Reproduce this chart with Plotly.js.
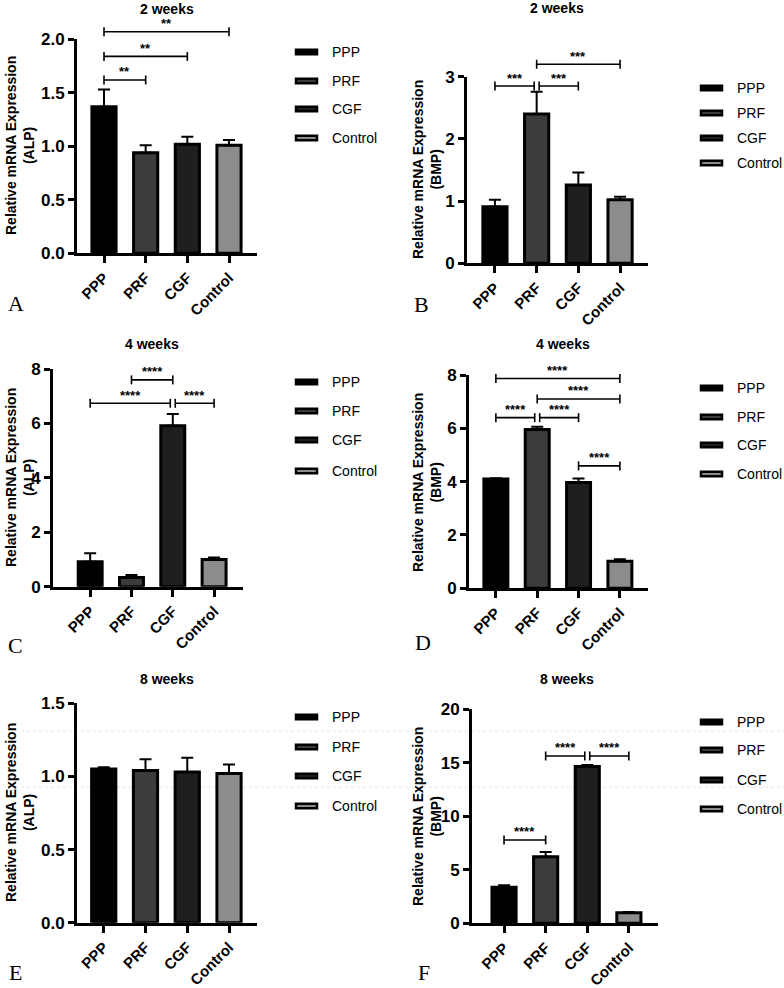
<!DOCTYPE html>
<html><head><meta charset="utf-8">
<script src="https://cdn.plot.ly/plotly-3.0.1.min.js"></script>
<style>html,body{margin:0;padding:0;background:#fff;}#chart{width:784px;height:988px;}</style>
</head><body><div id="chart"></div>
<script>
// ---------- DATA ----------
const groups = ['PPP', 'PRF', 'CGF', 'Control'];
const panelLetters = ['A', 'B', 'C', 'D', 'E', 'F'];
const panelTitles = ['2 weeks', '2 weeks', '4 weeks', '4 weeks', '8 weeks', '8 weeks'];
const genes = ['ALP', 'BMP', 'ALP', 'BMP', 'ALP', 'BMP'];
const yTitle = 'Relative mRNA Expression';

const alp2wMean = [1.37, 0.94, 1.02, 1.01];
const alp2wSD   = [0.16, 0.07, 0.07, 0.05];
const bmp2wMean = [0.91, 2.40, 1.26, 1.02];
const bmp2wSD   = [0.11, 0.36, 0.20, 0.05];
const alp4wMean = [0.92, 0.34, 5.91, 1.00];
const alp4wSD   = [0.31, 0.09, 0.44, 0.07];
const bmp4wMean = [4.10, 5.96, 3.97, 1.01];
const bmp4wSD   = [0.03, 0.10, 0.15, 0.08];
const alp8wMean = [1.05, 1.04, 1.03, 1.02];
const alp8wSD   = [0.013, 0.078, 0.098, 0.061];
const bmp8wMean = [3.36, 6.23, 14.65, 0.98];
const bmp8wSD   = [0.19, 0.43, 0.15, 0.08];

const yMax = [2, 3, 8, 8, 1.5, 20];
const yStep = [0.5, 1, 2, 2, 0.5, 5];

// significance brackets: [from group index, to group index, height, label]
const sigA = [[0, 1, 1.62, '**'], [0, 2, 1.84, '**'], [0, 3, 2.07, '**']];
const sigB = [[0, 1, 2.85, '***'], [1, 2, 2.85, '***'], [1, 3, 3.20, '***']];
const sigC = [[1, 2, 7.60, '****'], [0, 2, 6.74, '****'], [2, 3, 6.74, '****']];
const sigD = [[0, 3, 7.87, '****'], [1, 3, 7.10, '****'], [0, 1, 6.40, '****'], [1, 2, 6.40, '****'], [2, 3, 4.59, '****']];
const sigE = [];
const sigF = [[0, 1, 7.79, '****'], [1, 2, 15.64, '****'], [2, 3, 15.64, '****']];

// ---------- STYLE / LAYOUT ----------
const W = 784, H = 988;
const FONT = 'Liberation Sans, Arial, sans-serif';
const barColors = ['#000000', '#3c3c3c', '#1f1f1f', '#8c8c8c'];
const means = [alp2wMean, bmp2wMean, alp4wMean, bmp4wMean, alp8wMean, bmp8wMean];
const sds = [alp2wSD, bmp2wSD, alp4wSD, bmp4wSD, alp8wSD, bmp8wSD];
const sigs = [sigA, sigB, sigC, sigD, sigE, sigF];

const px = x => x / W;
const py = y => 1 - y / H;

const geo = [
  {x: [77, 257],  y: [39.3, 253.3],  xr: [-0.648, 3.672], t: [167, 9],   l: [16, 303],  yt: [20, 146],  lg: {x0: 295, x1: 318, tx: 330, ys: [52, 81, 109, 138]}},
  {x: [467, 648], y: [76.7, 263.3],  xr: [-0.67, 3.67],   t: [557, 8],   l: [422, 305], yt: [427, 169], lg: {x0: 700, x1: 723, tx: 735, ys: [88, 113, 138, 163]}},
  {x: [53, 243],  y: [369, 586.7],   xr: [-0.9, 3.7],     t: [152, 344], l: [15, 645],  yt: [20, 478],  lg: {x0: 295, x1: 318, tx: 330, ys: [382, 411, 440, 471]}},
  {x: [469, 648], y: [375, 588.3],   xr: [-0.65, 3.68],   t: [563, 344], l: [423, 642], yt: [427, 482], lg: {x0: 700, x1: 723, tx: 735, ys: [388, 417, 445, 474]}},
  {x: [77, 257],  y: [703.3, 922.7], xr: [-0.64, 3.67],   t: [167, 679], l: [15, 972],  yt: [20, 813],  lg: {x0: 295, x1: 318, tx: 330, ys: [717, 747, 776, 806]}},
  {x: [472, 658], y: [709.3, 923.3], xr: [-0.77, 3.7],    t: [567, 679], l: [424, 972], yt: [427, 816], lg: {x0: 700, x1: 723, tx: 735, ys: [722, 750, 780, 809]}}
];

const data = [];
const layout = {
  width: W, height: H,
  margin: {l: 0, r: 0, t: 0, b: 0},
  paper_bgcolor: '#fff', plot_bgcolor: 'rgba(0,0,0,0)',
  showlegend: false,
  font: {family: FONT, color: '#000'},
  shapes: [], annotations: []
};

// faint scan lines in the lower panels
[731, 787].forEach(y => {
  layout.shapes.push({type: 'line', xref: 'paper', yref: 'paper', x0: px(15), x1: px(784), y0: py(y), y1: py(y),
    line: {color: '#e4e4e4', width: 1, dash: 'dot'}, layer: 'below'});
});

for (let p = 0; p < 6; p++) {
  const g = geo[p];
  const n = p === 0 ? '' : String(p + 1);
  const xa = 'xaxis' + n, ya = 'yaxis' + n;
  const xr = 'x' + n, yr = 'y' + n;

  data.push({
    type: 'bar', x: groups, y: means[p], xaxis: xr, yaxis: yr,
    width: 0.58,
    marker: {color: barColors, line: {color: '#000', width: 3}},
    error_y: {type: 'data', symmetric: false, array: sds[p], arrayminus: groups.map(() => 0),
      color: '#000', thickness: 2, width: 6},
    hoverinfo: 'x+y'
  });

  layout[xa] = {
    domain: [px(g.x[0]), px(g.x[1])], anchor: yr,
    type: 'category', categoryorder: 'array', categoryarray: groups,
    range: g.xr, showline: true, linewidth: 3, linecolor: '#000',
    ticks: 'outside', ticklen: 7, tickwidth: 3, tickcolor: '#000',
    tickangle: -45, tickfont: {family: FONT, size: 15, weight: 'bold'},
    showgrid: false, zeroline: false, fixedrange: true
  };
  layout[ya] = {
    domain: [py(g.y[1]), py(g.y[0])], anchor: xr,
    range: [0, yMax[p]], dtick: yStep[p], tick0: 0,
    tickformat: yStep[p] < 1 ? '.1f' : 'd',
    showline: true, linewidth: 3, linecolor: '#000',
    ticks: 'outside', ticklen: 6, tickwidth: 3, tickcolor: '#000',
    tickfont: {family: FONT, size: 17, weight: 'bold'},
    showgrid: false, zeroline: false, fixedrange: true
  };

  // y-axis title (two lines, rotated)
  layout.annotations.push({xref: 'paper', yref: 'paper', x: px(g.yt[0]), y: py(g.yt[1]),
    xanchor: 'center', yanchor: 'middle', showarrow: false, textangle: -90,
    text: '<b>' + yTitle + '<br>(' + genes[p] + ')</b>',
    font: {family: FONT, size: 14}});
  // panel title
  layout.annotations.push({xref: 'paper', yref: 'paper', x: px(g.t[0]), y: py(g.t[1]),
    xanchor: 'center', yanchor: 'middle', showarrow: false, height: 14,
    text: '<b>' + panelTitles[p] + '</b>', font: {family: FONT, size: 14}});
  // panel letter
  layout.annotations.push({xref: 'paper', yref: 'paper', x: px(g.l[0]), y: py(g.l[1]),
    xanchor: 'center', yanchor: 'middle', showarrow: false, text: panelLetters[p],
    font: {family: 'Liberation Serif, DejaVu Serif, serif', size: 22}});

  // manual legend
  groups.forEach((name, i) => {
    const yc = g.lg.ys[i];
    layout.shapes.push({type: 'rect', xref: 'paper', yref: 'paper',
      x0: px(g.lg.x0 + 1), x1: px(g.lg.x1 - 1), y0: py(yc - 2.2), y1: py(yc + 2.2),
      line: {color: '#000', width: 2.5}, fillcolor: barColors[i]});
    layout.annotations.push({xref: 'paper', yref: 'paper', x: px(g.lg.tx), y: py(yc),
      xanchor: 'left', yanchor: 'middle', showarrow: false, text: name,
      font: {family: FONT, size: 14}});
  });

  // significance brackets
  const sig = sigs[p];
  sig.forEach(s => {
    const [a, b, h, lab] = s;
    const shared = (idx) => sig.some(o => o !== s && Math.abs(o[2] - h) < 1e-6 && (o[0] === idx || o[1] === idx));
    const xa0 = a + (shared(a) ? 0.06 : 0);
    const xb0 = b - (shared(b) ? 0.06 : 0);
    const yd = h / yMax[p];
    const common = {xref: xr, yref: yr + ' domain', line: {color: '#000', width: 1.6}};
    layout.shapes.push(Object.assign({type: 'line', x0: xa0, x1: xb0, y0: yd, y1: yd}, common));
    [xa0, xb0].forEach(xx => {
      layout.shapes.push(Object.assign({type: 'line', x0: xx, x1: xx, ysizemode: 'pixel', yanchor: yd, y0: -4.5, y1: 4.5}, common));
    });
    layout.annotations.push({xref: xr, yref: yr + ' domain', x: (xa0 + xb0) / 2, y: yd, yshift: 8, height: 9,
      xanchor: 'center', yanchor: 'middle', showarrow: false, text: '<b>' + lab + '</b>',
      font: {family: FONT, size: 13}});
  });
}

Plotly.newPlot('chart', data, layout, {displayModeBar: false, staticPlot: true});
</script>
</body></html>
